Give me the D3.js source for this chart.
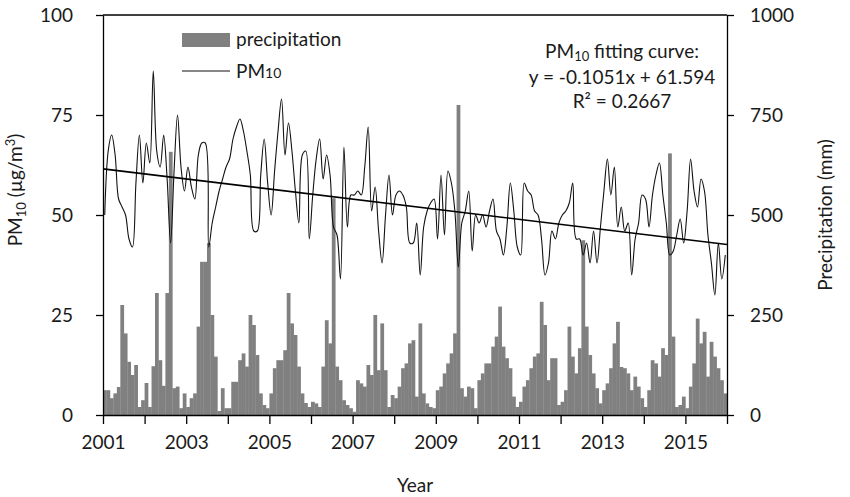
<!DOCTYPE html>
<html>
<head>
<meta charset="utf-8">
<script src="https://cdn.jsdelivr.net/npm/d3@7"></script>
<style>
    body { margin: 0; background: #fff; }
    svg text { font-family: Lato, "Open Sans", sans-serif; fill: #1a1a1a; }
    .axis path, .axis line { stroke: #000; stroke-width: 1.3px; }
    .axis text { font-size: 19px; }
    .title { font-size: 19px; }
</style>
</head>
<body>
<div id="chart-area"></div>
<script>

// monthly values, Jan 2001 - Dec 2015 (one row per year)
var pm10 = [
    50, 66, 70, 65, 54, 52, 50, 44, 42, 58, 70, 58,
    68, 63, 86, 66, 62, 70, 59, 43, 61, 75, 62, 56,
    62, 57, 54, 65, 68, 68, 42, 48, 52, 56, 59, 62,
    64, 69, 72, 74, 71, 66, 60, 46, 46, 60, 69, 58,
    50, 61, 71, 79, 65, 73, 66, 56, 48, 65, 66, 44,
    55, 64, 69, 59, 65, 60, 47, 45, 34, 67, 47, 55,
    55, 56, 55, 62, 72, 51, 57, 46, 38, 50, 60, 50,
    55, 56, 55, 52, 43, 43, 48, 35, 47, 51, 53, 54,
    44, 60, 45, 61, 58, 51, 37, 48, 51, 56, 41, 50,
    48, 50, 47, 51, 54, 46, 44, 40, 47, 58, 51, 42,
    40, 58, 56, 55, 51, 50, 44, 35, 38, 46, 44, 48,
    50, 51, 53, 58, 44, 44, 40, 43, 38, 46, 38, 47,
    56, 64, 55, 62, 47, 52, 46, 48, 35, 44, 48, 55,
    54, 47, 55, 60, 63, 55, 48, 40, 41, 45, 49, 43,
    51, 64, 56, 52, 59, 56, 45, 38, 30, 43, 34, 40
];

var precip = [
    62, 62, 42, 54, 70, 275, 204, 133, 100, 125, 20, 37,
    80, 20, 122, 305, 137, 73, 305, 658, 67, 71, 17, 54,
    20, 42, 54, 221, 383, 383, 430, 250, 146, 10, 67, 17,
    17, 83, 83, 137, 154, 121, 250, 225, 150, 54, 25, 17,
    54, 117, 137, 137, 162, 305, 229, 200, 121, 54, 30, 20,
    33, 29, 20, 121, 237, 179, 542, 121, 87, 37, 25, 17,
    8, 87, 79, 71, 125, 100, 250, 112, 229, 112, 20, 50,
    42, 71, 117, 129, 179, 187, 46, 229, 54, 29, 20, 17,
    62, 71, 104, 129, 154, 204, 775, 67, 46, 71, 67, 17,
    87, 104, 129, 129, 171, 196, 271, 171, 142, 117, 46, 20,
    33, 71, 87, 117, 146, 154, 283, 225, 87, 142, 142, 25,
    33, 62, 221, 146, 104, 167, 437, 221, 150, 104, 67, 29,
    62, 79, 117, 179, 233, 120, 117, 104, 62, 96, 71, 42,
    20, 62, 137, 129, 96, 167, 150, 654, 196, 20, 25, 46,
    17, 71, 129, 241, 179, 208, 96, 183, 146, 117, 87, 54
];

var yearTicks = d3.range(2001, 2017);
var pmTicks = [0, 25, 50, 75, 100];
var precipTicks = [0, 250, 500, 750, 1000];

// fitted line shown in the chart: y = -0.1051x + 61.594 (x = month number)
var fitSlope = -0.1051, fitIntercept = 61.594;

var months = pm10.map(function(d, i) { return i; });

// SVG drawing area
var margin = {top: 15, right: 123, bottom: 82, left: 103};
var width = 850 - margin.left - margin.right,
    height = 497 - margin.top - margin.bottom;

var svg = d3.select("#chart-area").append("svg")
    .attr("width", 850)
    .attr("height", 497)
    .append("g")
    .attr("transform", "translate(" + margin.left + "," + margin.top + ")");

//SCALES
var x = d3.scaleBand()
    .domain(months)
    .range([0, width])
    .padding(0);

var xYear = d3.scaleLinear()
    .domain([2001, 2016])
    .range([0, width]);

var y = d3.scaleLinear()
    .domain([0, 100])
    .range([height, 0]);

var yRight = d3.scaleLinear()
    .domain([0, 1000])
    .range([height, 0]);

//BARS
svg.selectAll(".bar")
    .data(precip)
    .enter()
    .append("rect")
    .attr("class", "bar")
    .attr("x", function(d, i) { return x(i); })
    .attr("width", x.bandwidth() + 0.3)
    .attr("y", function(d) { return yRight(d); })
    .attr("height", function(d) { return height - yRight(d); })
    .attr("fill", "#808080");

//PM10 LINE
var drawLine = d3.line()
    .x(function(d, i) { return x(i) + x.bandwidth() / 2; })
    .y(function(d) { return y(d); })
    .curve(d3.curveCatmullRom.alpha(.5));

svg.append("path")
    .attr("d", drawLine(pm10))
    .attr("fill", "none")
    .attr("stroke", "#111")
    .attr("stroke-width", 1.1);

//FIT LINE
var fitX = d3.scaleLinear().domain([0.5, pm10.length + 0.5]).range([0, width]);
svg.append("line")
    .attr("x1", fitX(0.5))
    .attr("x2", fitX(pm10.length + 0.5))
    .attr("y1", y(fitIntercept + fitSlope * 0.5))
    .attr("y2", y(fitIntercept + fitSlope * (pm10.length + 0.5)))
    .attr("stroke", "#000")
    .attr("stroke-width", 1.6);

//AXES
var xAxis = d3.axisBottom(xYear)
    .tickValues(yearTicks)
    .tickSize(9)
    .tickSizeOuter(0)
    .tickPadding(12)
    .tickFormat(function(d) { return (d - 2001) % 2 === 0 && d < 2016 ? d : ""; });

svg.append("g")
    .attr("class", "axis x-axis")
    .attr("transform", "translate(0," + height + ")")
    .call(xAxis);

svg.append("g")
    .attr("class", "axis y-axis")
    .call(d3.axisLeft(y).tickValues(pmTicks).tickSize(7).tickSizeOuter(0).tickPadding(23));

svg.append("g")
    .attr("class", "axis y-axis-right")
    .attr("transform", "translate(" + width + ",0)")
    .call(d3.axisRight(yRight).tickValues(precipTicks).tickSize(7).tickSizeOuter(0)
        .tickPadding(16).tickFormat(d3.format("d")));

// top frame
svg.append("line")
    .attr("x1", 0).attr("x2", width)
    .attr("y1", 0).attr("y2", 0)
    .attr("stroke", "#000")
    .attr("stroke-width", 1.3);

// axis titles
var ylabel = svg.append("text")
    .attr("class", "title")
    .attr("transform", "translate(" + (22 - margin.left) + "," + (190 - margin.top) + ") rotate(-90)")
    .style("text-anchor", "middle");
ylabel.append("tspan").text("PM");
ylabel.append("tspan").attr("font-size", "13px").attr("dy", 4).text("10");
ylabel.append("tspan").attr("dy", -4).text(" (\u00b5g/m");
ylabel.append("tspan").attr("font-size", "13px").attr("dy", -7).text("3");
ylabel.append("tspan").attr("dy", 7).text(")");

svg.append("text")
    .attr("class", "title")
    .attr("transform", "translate(" + (832 - margin.left) + "," + (215 - margin.top) + ") rotate(-90)")
    .style("text-anchor", "middle")
    .text("Precipitation (mm)");

svg.append("text")
    .attr("class", "title")
    .attr("x", width / 2)
    .attr("y", 492 - margin.top)
    .style("text-anchor", "middle")
    .text("Year");

// legend
var legend = svg.append("g")
    .attr("transform", "translate(" + (182 - margin.left) + "," + (33 - margin.top) + ")");

legend.append("rect")
    .attr("width", 48).attr("height", 14)
    .attr("fill", "#808080");
legend.append("text")
    .attr("class", "title")
    .attr("x", 54).attr("y", 13)
    .text("precipitation");

legend.append("line")
    .attr("x1", 0).attr("x2", 48)
    .attr("y1", 38).attr("y2", 38)
    .attr("stroke", "#111").attr("stroke-width", 1.2);
var legPm = legend.append("text")
    .attr("class", "title")
    .attr("x", 54).attr("y", 45);
legPm.append("tspan").text("PM");
legPm.append("tspan").attr("font-size", "14px").text("10");

// fitting curve note
var note = svg.append("g")
    .attr("transform", "translate(" + (622 - margin.left) + ",0)")
    .style("text-anchor", "middle");
var n1 = note.append("text").attr("class", "title").attr("y", 58 - margin.top);
n1.append("tspan").text("PM");
n1.append("tspan").attr("font-size", "13px").attr("dy", 3).text("10");
n1.append("tspan").attr("dy", -3).text(" fitting curve:");
note.append("text").attr("class", "title").attr("y", 84 - margin.top)
    .text("y = -0.1051x + 61.594");
note.append("text").attr("class", "title").attr("y", 108 - margin.top)
    .text("R\u00b2 = 0.2667");

</script>
</body>
</html>
